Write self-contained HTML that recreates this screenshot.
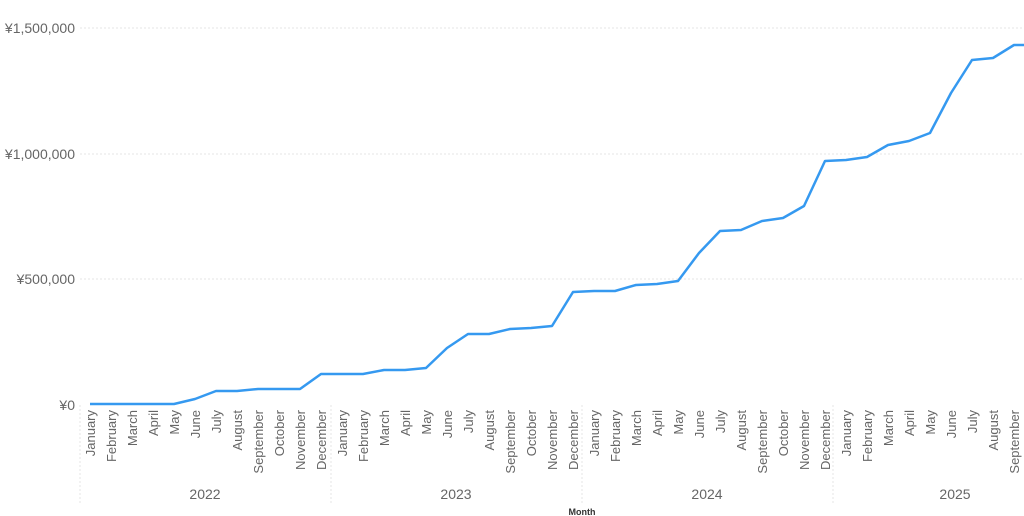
<!DOCTYPE html><html><head><style>body{margin:0;background:#fff}svg{display:block;font-family:"Liberation Sans",sans-serif}</style></head><body>
<svg width="1024" height="516" xmlns="http://www.w3.org/2000/svg">
<g stroke="#e6e6e6" stroke-dasharray="2,2" stroke-width="1">
<line x1="80" y1="28" x2="1024" y2="28"/><line x1="80" y1="154" x2="1024" y2="154"/><line x1="80" y1="279" x2="1024" y2="279"/>
<line x1="80" y1="405" x2="80" y2="505"/><line x1="331" y1="405" x2="331" y2="505"/><line x1="582" y1="405" x2="582" y2="505"/><line x1="833" y1="405" x2="833" y2="505"/>
</g>
<g fill="#666" font-size="14" text-anchor="end">
<text x="75" y="33">¥1,500,000</text><text x="75" y="159">¥1,000,000</text><text x="75" y="284">¥500,000</text><text x="75" y="410">¥0</text>
</g>
<g id="m" fill="#666" font-size="13" text-anchor="end"></g>
<g fill="#666" font-size="14" text-anchor="middle">
<text x="205" y="499">2022</text><text x="456" y="499">2023</text><text x="707" y="499">2024</text><text x="955" y="499">2025</text>
</g>
<text x="582" y="515" font-size="9" font-weight="bold" fill="#333" text-anchor="middle">Month</text>
<polyline id="l" fill="none" stroke="#3599f0" stroke-width="2.5" stroke-linejoin="round" points=""/>
</svg>
<script>
var M=["January","February","March","April","May","June","July","August","September","October","November","December"];
var ys=[404,404,404,404,404,399,391,391,389,389,389,374,374,374,370,370,368,348,334,334,329,328,326,292,291,291,285,284,281,253,231,230,221,218,206,161,160,157,145,141,133,93,60,58,45];
var g=document.getElementById("m"),p=[];
for(var i=0;i<45;i++){var x=90+i*21;p.push(x+","+ys[i]);
var t=document.createElementNS("http://www.w3.org/2000/svg","text");t.setAttribute("transform","translate("+(x+5)+",410) rotate(-90)");t.textContent=M[i%12];g.appendChild(t);}
p.push("1024,45");
document.getElementById("l").setAttribute("points",p.join(" "));
</script>
</body></html>
